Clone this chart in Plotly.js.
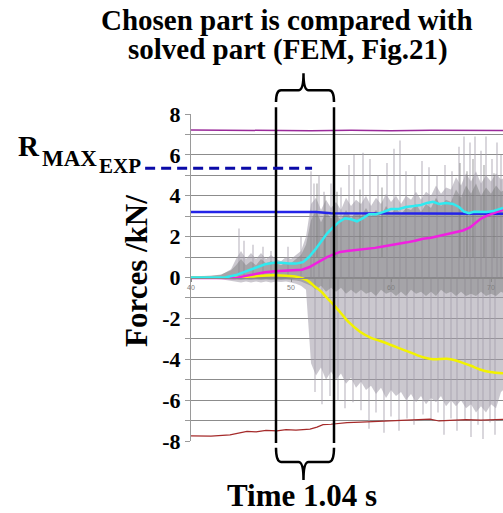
<!DOCTYPE html>
<html>
<head>
<meta charset="utf-8">
<script src="https://cdn.plot.ly/plotly-3.0.1.min.js"></script>
<style>html,body{margin:0;padding:0;background:#fff;}#chart{width:503px;height:513px;}</style>
</head>
<body>
<div id="chart"></div>
<script>
// ---------- data ----------
const yTickVals = [-8,-7,-6,-5,-4,-3,-2,-1,0,1,2,3,4,5,6,7,8];
const yTickText = ['-8','','-6','','-4','','-2','','0','','2','','4','','6','','8'];
const xTickVals = [40,50,60,70];
const xTickText = ['40','50','60','70'];

const rMaxExp = 5.34;          // R_MAX_EXP level
const cutStart = 48.5;         // chosen part start
const cutEnd = 54.3;           // chosen part end
const braceCenter = 51.25;

const noiseX  = [40,41,42,43,44,44.5,45,45.5,46,46.5,47,47.5,48,48.5,49,49.5,50,50.5,51,51.5,52,52.5,53,53.5,54,54.5,55,55.5,56,56.5,57,57.5,58,58.5,59,59.5,60,60.5,61,61.5,62,62.5,63,63.5,64,64.5,65,65.5,66,66.5,67,67.5,68,68.5,69,69.5,70,70.5,71,71.5];
const lightHi = [0.06,0.06,0.08,0.12,0.4,0.9,1.3,0.9,1.2,0.9,1.2,0.9,1.1,0.9,0.8,1.0,0.9,1.1,1.3,2.0,3.6,3.9,3.3,3.8,3.4,3.7,3.3,3.9,3.5,3.8,3.6,4.0,3.5,3.9,3.6,4.1,3.7,4.0,3.6,4.0,3.8,4.2,3.8,4.2,4.0,4.5,4.1,4.4,4.3,4.9,4.5,5.1,4.7,5.2,4.6,5.0,4.7,5.1,4.8,4.9];
const lightLo = [-0.05,-0.05,-0.06,-0.08,-0.15,-0.2,-0.25,-0.2,-0.25,-0.2,-0.25,-0.2,-0.25,-0.2,-0.22,-0.2,-0.25,-0.3,-0.4,-0.6,-4.2,-4.8,-4.4,-5.0,-4.6,-5.0,-4.7,-5.2,-4.9,-5.4,-5.1,-5.5,-5.3,-5.7,-5.4,-5.9,-5.5,-5.8,-5.6,-6.0,-5.7,-6.1,-5.8,-6.2,-5.9,-6.1,-5.8,-6.3,-6.0,-6.3,-6.0,-6.4,-6.2,-6.6,-6.3,-6.6,-6.2,-6.4,-5.6,-5.4];
const darkHi  = [0.05,0.05,0.08,0.15,0.35,0.6,0.9,0.6,0.8,0.6,0.9,0.7,0.8,0.7,0.6,0.75,0.7,0.9,1.1,1.6,2.8,3.3,2.7,3.2,2.9,3.1,2.8,3.3,2.9,3.2,3.0,3.4,3.0,3.3,3.0,3.5,3.1,3.4,3.1,3.4,3.3,3.6,3.2,3.6,3.4,3.9,3.5,3.8,3.7,4.3,3.9,4.5,4.1,4.6,4.0,4.4,4.1,4.5,4.2,4.3];
const darkLo  = [-0.03,-0.03,-0.04,-0.05,-0.08,-0.1,-0.12,-0.1,-0.12,-0.1,-0.12,-0.1,-0.12,-0.1,-0.12,-0.1,-0.12,-0.15,-0.2,-0.3,-0.4,-0.6,-0.4,-0.7,-0.5,-0.7,-0.5,-0.8,-0.6,-0.8,-0.6,-0.8,-0.7,-0.9,-0.6,-0.8,-0.7,-0.9,-0.7,-0.9,-0.6,-0.8,-0.7,-0.9,-0.7,-0.9,-0.6,-0.8,-0.7,-0.9,-0.7,-0.9,-0.8,-0.9,-0.7,-0.9,-0.8,-0.9,-0.7,-0.8];

const spikeUpX   = [44.8,45.3,46.2,47.2,48.0,49.7,51.0,52.0,52.3,52.8,53.3,54.0,55.0,55.8,56.3,57.2,57.9,58.7,59.6,60.3,60.9,61.5,62.4,63.1,63.8,64.6,65.4,66.1,66.8,67.3,67.9,68.4,69.0,69.5,70.1,70.6,71.0];
const spikeUpTop = [2.4,1.8,1.6,1.5,1.3,1.5,2.0,5.2,4.6,5.0,4.2,4.6,4.4,5.5,6.0,6.1,5.8,5.0,5.6,6.3,6.7,5.2,5.0,5.7,5.4,5.0,5.5,5.2,6.4,6.9,6.6,6.9,6.2,6.9,5.8,6.6,6.0];
const spikeDnX   = [52.4,53.1,53.9,54.7,55.4,56.2,57.0,57.8,58.5,59.3,60.0,60.8,61.6,62.3,63.2,64.0,64.7,65.3,66.0,66.6,67.4,68.0,68.7,69.2,69.9,70.4];
const spikeDnBot = [-5.6,-6.2,-5.8,-6.0,-6.4,-6.1,-6.5,-7.4,-6.6,-7.6,-6.8,-7.5,-6.9,-7.2,-6.7,-7.0,-6.6,-7.7,-6.9,-7.5,-7.0,-7.8,-7.2,-7.9,-7.1,-7.7];
const darkSpikeX   = [52.6,53.4,54.6,56.9,59.1,66.9,67.6,68.2,69.3,70.3];
const darkSpikeTop = [4.6,4.0,4.2,4.3,4.4,5.6,5.2,5.8,5.5,5.1];

const purpleX = [40,45,48.5,52,56,60,64,68,71.2];
const purpleY = [7.22,7.2,7.2,7.18,7.2,7.18,7.2,7.18,7.19];
const blueX = [40,45,47.3,49.5,51.5,52.5,54,60,65,71.2];
const blueY = [3.2,3.2,3.18,3.2,3.18,3.2,3.14,3.13,3.13,3.12];
const redX = [40,42,43.9,44.8,45.6,46.5,47.5,48.6,49.5,50.5,51.9,52.6,53.2,54,55.6,57,58.9,60.5,62,63.9,64.8,66,67.5,69,70.6,71.2];
const redY = [-7.75,-7.76,-7.7,-7.62,-7.53,-7.55,-7.48,-7.5,-7.44,-7.47,-7.42,-7.32,-7.2,-7.18,-7.1,-7.08,-7.04,-7.02,-7.0,-6.93,-7.02,-6.98,-6.95,-6.98,-6.93,-6.94];
const yellowX = [40,44,46,47.5,49,50.4,51.2,51.8,52.4,53,53.6,54.2,55,55.8,56.9,58,59,60.6,61.6,62.6,63.4,64.2,65.6,66.4,67.2,68,68.9,69.9,71.2];
const yellowY = [0,0,0.05,0.1,0.1,0.05,-0.05,-0.2,-0.45,-0.68,-1.0,-1.3,-1.75,-2.2,-2.65,-2.95,-3.12,-3.42,-3.6,-3.8,-3.93,-4.0,-3.98,-4.05,-4.18,-4.32,-4.5,-4.62,-4.68];
const magentaX = [40,44.4,45.5,46.5,47.4,48.4,49.4,50.3,51.1,51.8,52.4,53,53.6,54.2,54.9,55.6,56.6,57.6,58.4,59.2,60.2,61,61.6,62.4,63.2,64,64.9,65.8,66.6,67.2,67.9,68.4,68.9,69.5,70.2,70.8,71.2];
const magentaY = [-0.03,-0.03,0.08,0.18,0.26,0.3,0.34,0.35,0.38,0.5,0.68,0.85,1.0,1.12,1.25,1.3,1.35,1.4,1.45,1.52,1.6,1.65,1.72,1.8,1.9,1.95,2.05,2.15,2.22,2.3,2.45,2.65,2.85,3.0,3.12,3.25,3.32];
const cyanX = [40,43.4,44.5,45.5,46.5,47.4,48.3,49,49.8,50.5,51.2,51.8,52.4,53,53.6,54.2,54.8,55.4,56,56.6,57.2,57.8,58.5,59.2,60,60.8,61.5,62.3,63,63.6,64.2,64.8,65.5,66.2,66.8,67.3,67.8,68.3,69,69.6,70.2,70.8,71.2];
const cyanY = [0,0,0.12,0.3,0.5,0.65,0.72,0.72,0.68,0.68,0.75,1.0,1.35,1.75,2.15,2.45,2.72,2.9,2.85,2.75,2.9,3.1,3.1,3.2,3.35,3.35,3.45,3.5,3.55,3.65,3.7,3.6,3.65,3.6,3.45,3.22,3.15,3.22,3.2,3.2,3.25,3.35,3.4];

// ---------- helpers ----------
function band(xs, hi, lo) {
  return { x: xs.concat(xs.slice().reverse()), y: hi.concat(lo.slice().reverse()) };
}
function segments(xs, y0, tops) {
  const X = [], Y = [];
  xs.forEach((v, i) => { X.push(v, v, null); Y.push(y0, tops[i], null); });
  return { x: X, y: Y };
}
const lb = band(noiseX, lightHi, lightLo);
const db = band(noiseX, darkHi, darkLo);
const su = segments(spikeUpX, 0, spikeUpTop);
const sd = segments(spikeDnX, 0, spikeDnBot);
const ds = segments(darkSpikeX, 1, darkSpikeTop);

const traces = [
  { x: lb.x, y: lb.y, type: 'scatter', mode: 'lines', fill: 'toself', fillcolor: 'rgba(160,155,168,0.55)', line: { width: 0 }, hoverinfo: 'skip' },
  { x: su.x, y: su.y, type: 'scatter', mode: 'lines', line: { color: 'rgba(165,160,172,0.7)', width: 1.2 }, hoverinfo: 'skip' },
  { x: sd.x, y: sd.y, type: 'scatter', mode: 'lines', line: { color: 'rgba(165,160,172,0.7)', width: 1.2 }, hoverinfo: 'skip' },
  { x: db.x, y: db.y, type: 'scatter', mode: 'lines', fill: 'toself', fillcolor: 'rgba(120,120,120,0.45)', line: { width: 0 }, hoverinfo: 'skip' },
  { x: ds.x, y: ds.y, type: 'scatter', mode: 'lines', line: { color: 'rgba(120,120,120,0.6)', width: 1.2 }, hoverinfo: 'skip' },
  { x: purpleX, y: purpleY, type: 'scatter', mode: 'lines', line: { color: '#9a2a9a', width: 1.5 } },
  { x: redX, y: redY, type: 'scatter', mode: 'lines', line: { color: '#a52a2a', width: 1.2 } },
  { x: blueX, y: blueY, type: 'scatter', mode: 'lines', line: { color: '#2424e8', width: 2.5 } },
  { x: yellowX, y: yellowY, type: 'scatter', mode: 'lines', line: { color: '#f2f200', width: 2.5, shape: 'spline' } },
  { x: magentaX, y: magentaY, type: 'scatter', mode: 'lines', line: { color: '#f020e0', width: 2.5 } },
  { x: cyanX, y: cyanY, type: 'scatter', mode: 'lines', line: { color: '#30eaf0', width: 2.5 } }
];

function brace(xL, xR, xC, yEnd, yMid, yTip, r) {
  return `M ${xL},${yEnd} Q ${xL},${yMid} ${xL + r},${yMid} L ${xC - r},${yMid} Q ${xC},${yMid} ${xC},${yTip} ` +
         `Q ${xC},${yMid} ${xC + r},${yMid} L ${xR - r},${yMid} Q ${xR},${yMid} ${xR},${yEnd}`;
}

const serif = 'Liberation Serif, Times New Roman, serif';
function ann(text, x, y, size, extra) {
  return Object.assign({ text: '<b>' + text + '</b>', x: x, y: y, xref: 'paper', yref: 'paper', showarrow: false,
    xanchor: 'center', yanchor: 'middle', borderpad: 0, font: { family: serif, size: size, color: '#000' } }, extra || {});
}

const layout = {
  width: 503, height: 513,
  margin: { l: 191, r: 0, t: 114, b: 72, pad: 0 },
  paper_bgcolor: '#fff', plot_bgcolor: '#fff',
  showlegend: false,
  font: { family: serif },
  xaxis: {
    range: [40, 71.2], anchor: 'free', position: 0.5, layer: 'above traces',
    showgrid: false, zeroline: false, showline: true, linecolor: '#8a8a8a', linewidth: 1,
    ticks: 'outside', ticklen: 3, tickcolor: '#8a8a8a',
    tickvals: xTickVals, ticktext: xTickText,
    tickfont: { family: 'Liberation Sans, Arial, sans-serif', size: 7, color: '#808080' }
  },
  yaxis: {
    range: [-8, 8], showgrid: true, gridcolor: '#8c8c8c', gridwidth: 1, zeroline: false,
    showline: true, linecolor: '#9a9a9a', linewidth: 1,
    ticks: 'outside', ticklen: 5, tickcolor: '#9a9a9a',
    tickvals: yTickVals, ticktext: yTickText,
    tickfont: { family: serif, size: 22, color: '#000', weight: 'bold' }
  },
  shapes: [
    { type: 'line', xref: 'x', yref: 'paper', x0: cutStart, x1: cutStart, y0: -0.006, y1: 1.021, line: { color: '#000', width: 2.5 } },
    { type: 'line', xref: 'x', yref: 'paper', x0: cutEnd, x1: cutEnd, y0: -0.006, y1: 1.021, line: { color: '#000', width: 2.5 } },
    { type: 'path', xref: 'x', yref: 'paper', path: brace(cutStart, cutEnd, braceCenter, 1.037, 1.073, 1.125, 0.5), line: { color: '#000', width: 2.5 } },
    { type: 'path', xref: 'x', yref: 'paper', path: brace(cutStart, cutEnd, braceCenter, -0.021, -0.064, -0.119, 0.5), line: { color: '#000', width: 2.5 } },
    { type: 'line', xref: 'paper', yref: 'y', x0: -0.147, x1: 0.388, y0: rMaxExp, y1: rMaxExp, line: { color: '#0a0aa8', width: 3, dash: '10px,6px' } }
  ],
  annotations: [
    ann('Chosen part is compared with', 0.308, 1.287, 29),
    ann('solved part (FEM, Fig.21)', 0.31, 1.196, 29),
    ann('Time 1.04 s', 0.357, -0.168, 31),
    ann('Forces /kN/', -0.173, 0.52, 31, { textangle: -90 }),
    ann('R', -0.519, 0.902, 29),
    ann('MAX', -0.388, 0.865, 23),
    ann('EXP', -0.228, 0.841, 21)
  ]
};

Plotly.newPlot('chart', traces, layout, { displayModeBar: false, staticPlot: true });
</script>
</body>
</html>
